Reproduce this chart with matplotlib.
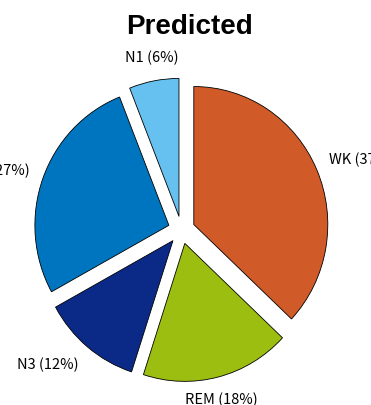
import numpy as np
import matplotlib
matplotlib.use("Agg")
import matplotlib.pyplot as plt

stages = ["WK", "REM", "N3", "N2", "N1"]
shares = [37, 18, 12, 27, 6]
colors = ["#D05A28", "#9CBE10", "#0B2A88", "#0075BF", "#66C0F0"]

fig = plt.figure(figsize=(3.71, 4.05), dpi=100)
ax = fig.add_axes([0, 0, 1, 1])

wedges, _ = ax.pie(shares, colors=colors, startangle=90, counterclock=False,
                   explode=[0.1] * len(shares), radius=1.0,
                   wedgeprops=dict(edgecolor="black", linewidth=0.6))

# pixels per data unit in x / y, pie centre in px from bottom-left
sx, sy = 134.0, 138.0
cx, cy = 181.5, 175.0
ax.set_aspect("auto")
ax.set_xlim(-cx / sx, (371 - cx) / sx)
ax.set_ylim(-cy / sy, (405 - cy) / sy)
ax.axis("off")

# labels sit just outside the pie, along each wedge's middle angle
for w, name, val in zip(wedges, stages, shares):
    mid = np.deg2rad((w.theta1 + w.theta2) / 2)
    c, s = np.cos(mid), np.sin(mid)
    if abs(c) < 0.3:
        ha = "center"
    else:
        ha = "left" if c > 0 else "right"
    ax.text(1.2 * c, 1.27 * s, f"{name} ({val}%)", ha=ha, va="center",
            fontsize=10.5, family=["Noto Sans CJK JP", "DejaVu Sans"],
            clip_on=False)

fig.text(0.512, 0.916, "Predicted", ha="center", va="baseline",
         fontsize=20, fontweight="bold", family="Liberation Sans")

fig.savefig("out.png", dpi=100)
